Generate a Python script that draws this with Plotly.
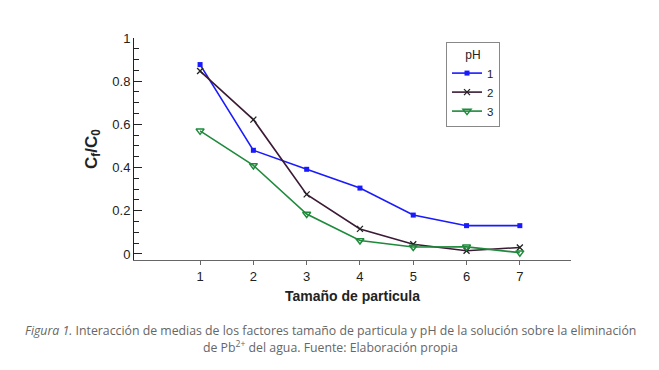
import plotly.graph_objects as go

sizes = [1, 2, 3, 4, 5, 6, 7]
ph1 = [0.877, 0.480, 0.392, 0.305, 0.180, 0.131, 0.131]
ph2 = [0.847, 0.622, 0.276, 0.116, 0.045, 0.015, 0.030]
ph3 = [0.570, 0.410, 0.185, 0.062, 0.032, 0.033, 0.006]
series_names = ["1", "2", "3"]
y_ticks = [0, 0.2, 0.4, 0.6, 0.8, 1]
y_ticklabels = ["0", "0.2", "0.4", "0.6", "0.8", "1"]

fig = go.Figure()
fig.add_trace(go.Scatter(x=sizes, y=ph1, name=series_names[0], mode="lines+markers",
                         line=dict(color="#1a1aff", width=1.6),
                         marker=dict(symbol="square", size=5, color="#1a1aff")))
fig.add_trace(go.Scatter(x=sizes, y=ph2, name=series_names[1], mode="lines+markers",
                         line=dict(color="#3b1a35", width=1.6),
                         marker=dict(symbol="x-thin", size=6, line=dict(color="#222222", width=1.3))))
fig.add_trace(go.Scatter(x=sizes, y=ph3, name=series_names[2], mode="lines+markers",
                         line=dict(color="#1f8a3c", width=1.6),
                         marker=dict(symbol="triangle-down-open", size=7, color="#1f8a3c",
                                     line=dict(width=1.5))))

cap_font = dict(family="Open Sans, Lato, sans-serif", size=12.3, color="#666666")

# page has an 8px body margin: plot area spans page x 134..571, y 38..260
fig.update_layout(
    width=659, height=370,
    margin=dict(l=126, r=96, t=30, b=118, autoexpand=False),
    paper_bgcolor="white", plot_bgcolor="white",
    font=dict(family="Liberation Sans, Arial, sans-serif", color="#222222", size=13),
    showlegend=True,
    legend=dict(x=(446 - 134) / 437, y=(260 - 42) / 222, xanchor="left", yanchor="top",
                bordercolor="#888888", borderwidth=1, bgcolor="white",
                title=dict(text="pH", side="top center", font=dict(size=12)),
                font=dict(size=11.5), itemwidth=30, tracegroupgap=0),
    xaxis=dict(range=[-0.24, 7.96], tickvals=sizes, ticktext=[str(s) for s in sizes],
               automargin=False,
               showgrid=False, zeroline=False, showline=True, linecolor="#666666", linewidth=1,
               ticks="outside", ticklen=4, tickcolor="#666666", tickfont=dict(size=13),
               title=dict(text="<b>Tamaño de particula</b>", font=dict(size=14), standoff=8)),
    yaxis=dict(range=[-0.028, 1.0], tickvals=y_ticks, ticktext=y_ticklabels,
               automargin=False,
               showgrid=False, zeroline=False, showline=True, linecolor="#222222", linewidth=1,
               ticks="inside", ticklen=8, tickcolor="#222222", tickfont=dict(size=13),
               minor=dict(ticks="inside", dtick=0.05, tick0=0, ticklen=5, tickcolor="#222222"),
               title=dict(text="<b>C<sub>f</sub>/C<sub>0</sub></b>", font=dict(size=17), standoff=10)),
    annotations=[
        dict(text="<i>Figura 1.</i> Interacción de medias de los factores tamaño de particula y pH de la solución sobre la eliminación",
             xref="paper", yref="paper", x=(330 - 134) / 437, y=(260 - 330) / 222,
             xanchor="center", yanchor="middle", showarrow=False, font=cap_font),
        dict(text="de Pb<sup>2+</sup> del agua. Fuente: Elaboración propia",
             xref="paper", yref="paper", x=(330 - 134) / 437, y=(260 - 347) / 222,
             xanchor="center", yanchor="middle", showarrow=False, font=cap_font),
    ],
)

fig.write_html("out.html")
